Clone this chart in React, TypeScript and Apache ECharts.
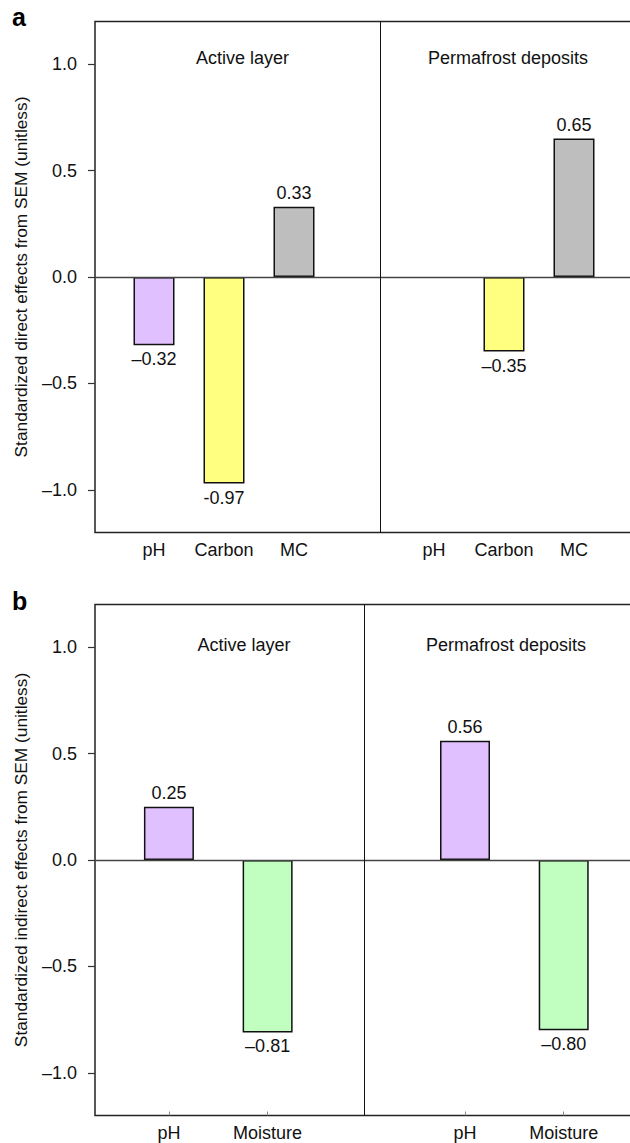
import React, { useEffect, useRef } from "react";
import * as echarts from "echarts";

// ---- data ----
const catsA = ["pH", "Carbon", "MC"];
const activeDirect = [-0.32, -0.97, 0.33];
const permDirect: (number | null)[] = [null, -0.35, 0.65];
const activeDirectText = ["\u20130.32", "-0.97", "0.33"];
const permDirectText = ["", "\u20130.35", "0.65"];

const catsB = ["pH", "Moisture"];
const activeIndirect = [0.25, -0.81];
const permIndirect = [0.56, -0.8];
const activeIndirectText = ["0.25", "\u20130.81"];
const permIndirectText = ["0.56", "\u20130.80"];

const yTicks = [-1, -0.5, 0, 0.5, 1];
const yTickText = ["\u20131.0", "\u20130.5", "0.0", "0.5", "1.0"];

const colorOf: Record<string, string> = {
  pH: "#E0C0FF",
  Carbon: "#FFFF80",
  MC: "#BEBEBE",
  Moisture: "#C1FFC1",
};

const FONT = "'Liberation Sans', Arial, Helvetica, sans-serif";

function buildPanel(
  cats: string[],
  active: (number | null)[],
  perm: (number | null)[],
  activeText: string[],
  permText: string[]
) {
  const offset = cats.length + 2;
  const positions: number[] = [];
  const names = new Map<number, string>();
  const data: any[] = [];
  const push = (vals: (number | null)[], texts: string[], start: number) => {
    vals.forEach((v, i) => {
      const x = start + i;
      positions.push(x);
      names.set(x, cats[i]);
      if (v === null) return;
      data.push({
        value: [x, v],
        itemStyle: { color: colorOf[cats[i]] },
        label: { position: v < 0 ? "bottom" : "top", formatter: texts[i] },
      });
    });
  };
  push(active, activeText, 1);
  push(perm, permText, offset);
  return { positions, names, data };
}

export default function App() {
  const ref = useRef<HTMLDivElement>(null);
  useEffect(() => {
    if (!ref.current) return;
    const chart = echarts.init(ref.current, undefined, { renderer: "svg" });
    const pa = buildPanel(catsA, activeDirect, permDirect, activeDirectText, permDirectText);
    const pb = buildPanel(catsB, activeIndirect, permIndirect, activeIndirectText, permIndirectText);

    const textStyle = { fontFamily: FONT, fontSize: 18, color: "#111" };

    const yAxisCommon = (name: string, gridIndex: number) => ({
      type: "value",
      gridIndex,
      min: -1.2,
      max: 1.2,
      name,
      nameLocation: "middle",
      nameGap: 66,
      nameTextStyle: { fontFamily: FONT, fontSize: 17.3, color: "#111" },
      axisLine: { show: false },
      axisTick: { show: true, length: 7, lineStyle: { color: "#333", width: 1.2 }, customValues: yTicks },
      axisLabel: {
        ...textStyle,
        margin: 18,
        customValues: yTicks,
        formatter: (v: number) => {
          const i = yTicks.findIndex((t) => Math.abs(t - v) < 1e-6);
          return i >= 0 ? yTickText[i] : "";
        },
      },
      splitLine: { show: false },
    });

    const xAxisCommon = (p: any, gridIndex: number, min: number, max: number, ticks: boolean) => ({
      type: "value",
      gridIndex,
      position: "bottom",
      min,
      max,
      axisLine: { show: false, onZero: false },
      splitLine: { show: false },
      axisTick: ticks
        ? { show: true, inside: true, length: 4, lineStyle: { color: "#888" }, customValues: p.positions }
        : { show: false },
      axisLabel: {
        ...textStyle,
        margin: 8,
        customValues: p.positions,
        formatter: (v: number) => p.names.get(Math.round(v)) ?? "",
      },
    });

    const markLine = (divider: number) => ({
      silent: true,
      symbol: ["none", "none"],
      label: { show: false },
      data: [
        { yAxis: 0, lineStyle: { color: "#444", width: 1.3, type: "solid" } },
        { xAxis: divider, lineStyle: { color: "#111", width: 1, type: "solid" } },
      ],
    });

    const barSeries = (p: any, idx: number, width: number, divider: number) => ({
      type: "bar",
      xAxisIndex: idx,
      yAxisIndex: idx,
      barWidth: width,
      data: p.data,
      itemStyle: { borderColor: "#111", borderWidth: 1.5 },
      label: { show: true, ...textStyle, distance: 5 },
      markLine: markLine(divider),
    });

    chart.setOption({
      animation: false,
      grid: [
        { left: 95, top: 21.5, width: 545, height: 511, show: true, borderColor: "#222", borderWidth: 1.5, backgroundColor: "transparent" },
        { left: 95, top: 604.5, width: 545, height: 511, show: true, borderColor: "#222", borderWidth: 1.5, backgroundColor: "transparent" },
      ],
      xAxis: [xAxisCommon(pa, 0, 0.157, 7.943, false), xAxisCommon(pb, 1, 0.251, 5.773, true)],
      yAxis: [
        yAxisCommon("Standardized direct effects from SEM (unitless)", 0),
        yAxisCommon("Standardized indirect effects from SEM (unitless)", 1),
      ],
      series: [barSeries(pa, 0, 41, 4.229), barSeries(pb, 1, 50, 2.985)],
      graphic: [
        { type: "text", x: 12, y: 17, style: { text: "a", font: `bold 25px ${FONT}`, fill: "#000", verticalAlign: "middle" } },
        { type: "text", x: 12, y: 601, style: { text: "b", font: `bold 25px ${FONT}`, fill: "#000", verticalAlign: "middle" } },
        { type: "text", x: 242.5, y: 58, style: { text: "Active layer", font: `18px ${FONT}`, fill: "#111", align: "center", verticalAlign: "middle" } },
        { type: "text", x: 508, y: 58, style: { text: "Permafrost deposits", font: `18px ${FONT}`, fill: "#111", align: "center", verticalAlign: "middle" } },
        { type: "text", x: 244, y: 644.5, style: { text: "Active layer", font: `18px ${FONT}`, fill: "#111", align: "center", verticalAlign: "middle" } },
        { type: "text", x: 506, y: 644.5, style: { text: "Permafrost deposits", font: `18px ${FONT}`, fill: "#111", align: "center", verticalAlign: "middle" } },
      ],
    });
    return () => chart.dispose();
  }, []);
  return (
    <div style={{ position: "absolute", left: 0, top: 0, width: 630, height: 1143, overflow: "hidden", background: "#fff" }}>
      <div ref={ref} style={{ width: 680, height: 1143 }} />
    </div>
  );
}
